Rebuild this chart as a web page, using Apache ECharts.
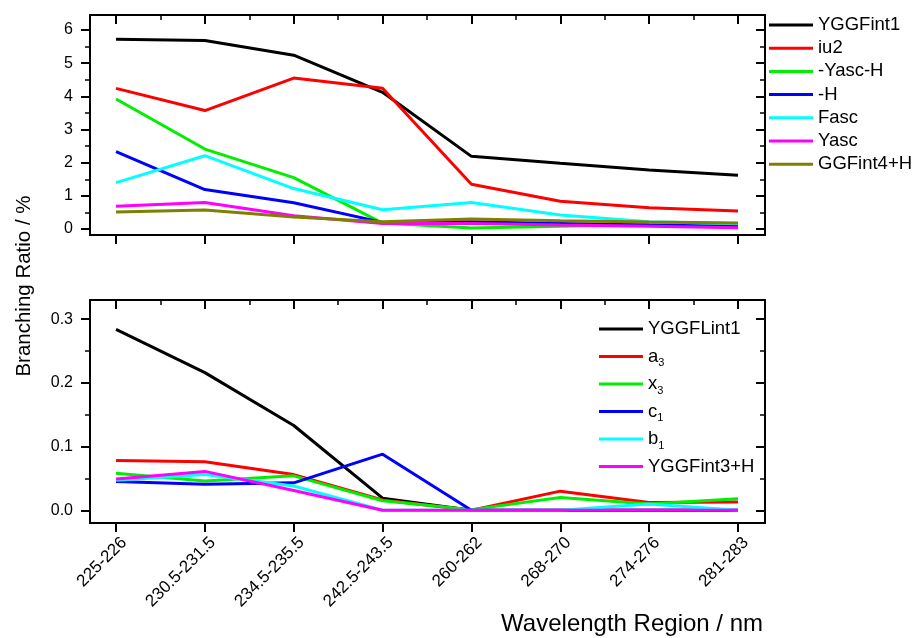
<!DOCTYPE html>
<html><head><meta charset="utf-8">
<script src="https://cdn.jsdelivr.net/npm/echarts@6/dist/echarts.min.js"></script>
<style>html,body{margin:0;padding:0;background:#fff}#c{width:915px;height:638px}</style>
</head><body><div id="c"></div>
<script>
// ---- data ----
const categories = ['225-226','230.5-231.5','234.5-235.5','242.5-243.5','260-262','268-270','274-276','281-283'];

const topNames = ['YGGFint1','iu2','-Yasc-H','-H','Fasc','Yasc','GGFint4+H'];
const topYGGFint1 = [5.72, 5.68, 5.24, 4.12, 2.19, 1.98, 1.78, 1.62];
const topIu2      = [4.24, 3.57, 4.55, 4.24, 1.35, 0.84, 0.64, 0.54];
const topYascH    = [3.92, 2.41, 1.55, 0.18, 0.03, 0.08, 0.14, 0.17];
const topH        = [2.33, 1.19, 0.79, 0.20, 0.22, 0.17, 0.12, 0.08];
const topFasc     = [1.40, 2.21, 1.22, 0.58, 0.80, 0.42, 0.22, 0.16];
const topYasc     = [0.69, 0.80, 0.40, 0.17, 0.17, 0.12, 0.08, 0.04];
const topGGFint4H = [0.51, 0.57, 0.36, 0.22, 0.30, 0.25, 0.21, 0.18];

const botNames = ['YGGFLint1','a3','x3','c1','b1','YGGFint3+H'];
const botYGGFLint1 = [0.284, 0.216, 0.133, 0.019, 0, 0, 0, 0];
const botA3        = [0.078, 0.076, 0.056, 0.016, 0, 0.030, 0.012, 0.013];
const botX3        = [0.058, 0.046, 0.054, 0.015, 0.001, 0.020, 0.010, 0.018];
const botC1        = [0.045, 0.041, 0.043, 0.088, 0, 0, 0, 0];
const botB1        = [0.047, 0.056, 0.038, 0, 0, 0, 0.010, 0];
const botYGGFint3H = [0.049, 0.061, 0.031, 0, 0, 0, 0, 0];

const topTickValues = [0, 1, 2, 3, 4, 5, 6];
const topTickLabels = ['0', '1', '2', '3', '4', '5', '6'];
const topMinorValues = [0.5, 1.5, 2.5, 3.5, 4.5, 5.5];
const botTickValues = [0, 0.1, 0.2, 0.3];
const botTickLabels = ['0.0', '0.1', '0.2', '0.3'];
const botMinorValues = [0.05, 0.15, 0.25];
const xMajor = [0, 1, 2, 3, 4, 5, 6, 7];
const xMinor = [0.5, 1.5, 2.5, 3.5, 4.5, 5.5, 6.5];

const colors = ['#000000', '#ff0000', '#00ee00', '#0000ff', '#00ffff', '#ff00ff', '#808000'];

// ---- helpers ----
const FONT = 'Liberation Sans, Arial, sans-serif';
const X_MIN = -0.293, X_MAX = 7.304;
const LABEL_SHIFT = 0.09; // moves rotated tick labels slightly right of their ticks

function toPairs(arr) { return arr.map((v, i) => [i, v]); }

function xAxesFor(gridIndex, showLabels) {
  const base = { type: 'value', gridIndex, min: X_MIN, max: X_MAX, splitLine: { show: false } };
  const axes = [
    Object.assign({}, base, {
      position: 'bottom',
      axisLine: { show: true, onZero: false, lineStyle: { color: '#000', width: 2 } },
      axisTick: { show: true, customValues: xMajor, length: 9, inside: false, lineStyle: { color: '#000', width: 2 } },
      axisLabel: { show: false }
    }),
    Object.assign({}, base, {
      position: 'top',
      axisLine: { show: true, onZero: false, lineStyle: { color: '#000', width: 2 } },
      axisTick: { show: true, customValues: xMajor, length: 9, inside: true, lineStyle: { color: '#000', width: 2 } },
      axisLabel: { show: false }
    }),
    Object.assign({}, base, {
      position: 'top',
      axisLine: { show: false, onZero: false },
      axisTick: { show: true, customValues: xMinor, length: 5, inside: true, lineStyle: { color: '#000', width: 1.5 } },
      axisLabel: { show: false }
    })
  ];
  if (showLabels) {
    axes.push({
      type: 'value', gridIndex, min: X_MIN - LABEL_SHIFT, max: X_MAX - LABEL_SHIFT,
      position: 'bottom', splitLine: { show: false },
      axisLine: { show: false, onZero: false }, axisTick: { show: false },
      axisLabel: {
        show: true, customValues: xMajor, rotate: 45, margin: 17,
        formatter: v => categories[Math.round(v)],
        fontSize: 17, color: '#000', fontFamily: FONT
      }
    });
  }
  return axes;
}

function yAxesFor(gridIndex, min, max, major, labels, minor) {
  const base = { type: 'value', gridIndex, min, max, splitLine: { show: false } };
  return [
    Object.assign({}, base, {
      position: 'left',
      axisLine: { show: true, onZero: false, lineStyle: { color: '#000', width: 2 } },
      axisTick: { show: true, customValues: major, length: 9, inside: false, lineStyle: { color: '#000', width: 2 } },
      axisLabel: {
        show: true, customValues: major, margin: 17,
        formatter: v => { const i = major.findIndex(m => Math.abs(m - v) < 1e-9); return i >= 0 ? labels[i] : ''; },
        fontSize: 16, color: '#000', fontFamily: FONT
      }
    }),
    Object.assign({}, base, {
      position: 'left',
      axisLine: { show: false, onZero: false },
      axisTick: { show: true, customValues: minor, length: 5, inside: false, lineStyle: { color: '#000', width: 1.5 } },
      axisLabel: { show: false }
    }),
    Object.assign({}, base, {
      position: 'right',
      axisLine: { show: true, onZero: false, lineStyle: { color: '#000', width: 2 } },
      axisTick: { show: true, customValues: major, length: 9, inside: true, lineStyle: { color: '#000', width: 2 } },
      axisLabel: { show: false }
    }),
    Object.assign({}, base, {
      position: 'right',
      axisLine: { show: false, onZero: false },
      axisTick: { show: true, customValues: minor, length: 5, inside: true, lineStyle: { color: '#000', width: 1.5 } },
      axisLabel: { show: false }
    })
  ];
}

const topData = [topYGGFint1, topIu2, topYascH, topH, topFasc, topYasc, topGGFint4H];
const botData = [botYGGFLint1, botA3, botX3, botC1, botB1, botYGGFint3H];

const series = [];
topNames.forEach((n, i) => series.push({
  name: n, type: 'line', xAxisIndex: 0, yAxisIndex: 0, data: toPairs(topData[i]),
  symbol: 'none', lineStyle: { width: 3, color: colors[i] }, itemStyle: { color: colors[i] },
  emphasis: { disabled: true }, animation: false
}));
botNames.forEach((n, i) => series.push({
  name: n, type: 'line', xAxisIndex: 3, yAxisIndex: 4, data: toPairs(botData[i]),
  symbol: 'none', lineStyle: { width: 3, color: colors[i] }, itemStyle: { color: colors[i] },
  emphasis: { disabled: true }, animation: false
}));

const subMap = { a3: 'a{sub|3}', x3: 'x{sub|3}', c1: 'c{sub|1}', b1: 'b{sub|1}' };

const option = {
  backgroundColor: '#fff',
  animation: false,
  grid: [
    { left: 90, right: 150, top: 15, height: 220 },
    { left: 90, right: 150, top: 300, height: 223 }
  ],
  xAxis: xAxesFor(0, false).concat(xAxesFor(1, true)),
  yAxis: yAxesFor(0, -0.18, 6.45, topTickValues, topTickLabels, topMinorValues)
    .concat(yAxesFor(1, -0.02, 0.33, botTickValues, botTickLabels, botMinorValues)),
  legend: [
    {
      data: topNames, orient: 'vertical', left: 769, top: 15, padding: 0,
      icon: 'rect', itemWidth: 44, itemHeight: 3, itemGap: 3.2,
      textStyle: { fontSize: 18.5, fontFamily: FONT, color: '#000', lineHeight: 20 },
      selectedMode: false
    },
    {
      data: botNames, orient: 'vertical', left: 599, top: 317, padding: 0,
      icon: 'rect', itemWidth: 44, itemHeight: 3, itemGap: 3.5,
      formatter: n => subMap[n] || n,
      textStyle: {
        fontSize: 18.5, fontFamily: FONT, color: '#000', lineHeight: 24,
        rich: { sub: { fontSize: 11, fontFamily: FONT, color: '#000', lineHeight: 24, verticalAlign: 'bottom' } }
      },
      selectedMode: false
    }
  ],
  graphic: [
    { type: 'text', x: 24, y: 286, rotation: Math.PI / 2,
      style: { text: 'Branching Ratio / %', fontSize: 20.5, fontFamily: FONT, fill: '#000', align: 'center', verticalAlign: 'middle' } },
    { type: 'text', x: 763, y: 636,
      style: { text: 'Wavelength Region / nm', fontSize: 24, fontFamily: FONT, fill: '#000', align: 'right', verticalAlign: 'bottom' } }
  ],
  series
};

const chart = echarts.init(document.getElementById('c'), null, { renderer: 'canvas' });
chart.setOption(option);
</script>
</body></html>
